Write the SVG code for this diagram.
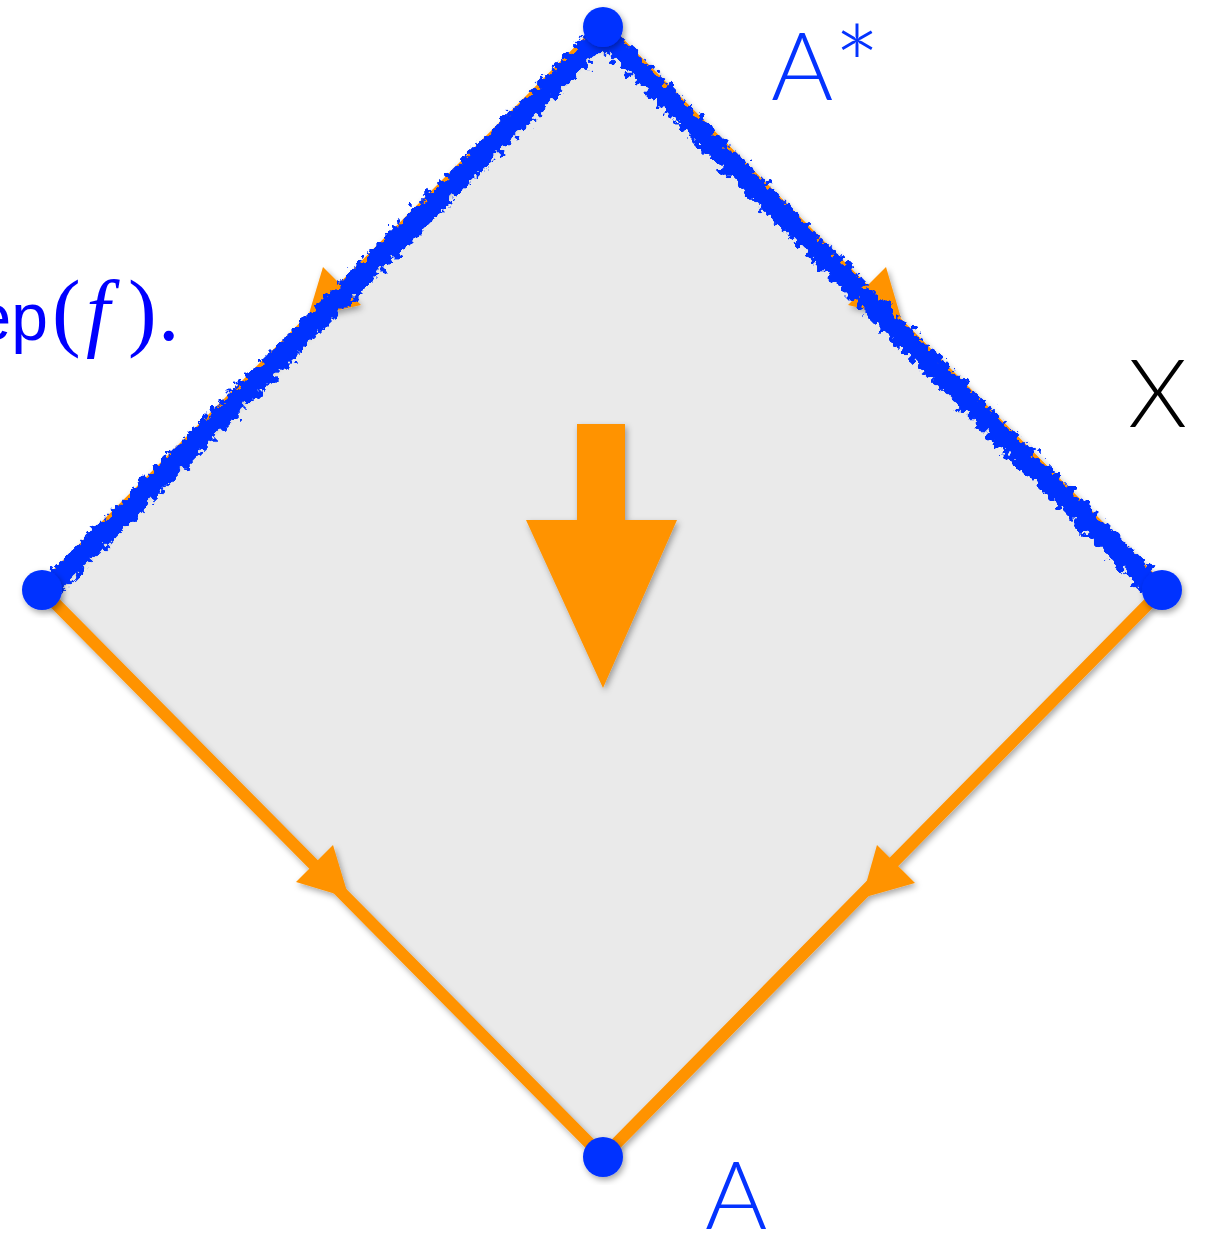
<svg xmlns="http://www.w3.org/2000/svg" width="1206" height="1235" viewBox="0 0 1206 1235">
  <defs>
    <filter id="shadow" x="-20%" y="-20%" width="140%" height="140%">
      <feDropShadow dx="2" dy="3" stdDeviation="3" flood-color="#000" flood-opacity="0.35"/>
    </filter>
    <filter id="rough" x="-10%" y="-10%" width="120%" height="120%">
      <feTurbulence type="fractalNoise" baseFrequency="0.13" numOctaves="3" seed="4" result="n"/>
      <feDisplacementMap in="SourceGraphic" in2="n" scale="18" xChannelSelector="R" yChannelSelector="G"/>
    </filter>
  </defs>
  <style>
    .edge { stroke: #ff9300; stroke-width: 12; fill: none; stroke-linecap: round; }
    .head { fill: #ff9300; }
    .dot { fill: #0433ff; }
    .scribble { stroke: #0433ff; stroke-width: 22; fill: none; stroke-linecap: round; }
    .lbl { font-family: Lato, "Liberation Sans", sans-serif; font-weight: 300; font-size: 95px; }
  </style>
  <rect width="1206" height="1235" fill="#ffffff"/>

  <g id="region">
    <polygon points="603,27 42,590 603,1157 1162,590" fill="#eaeaea"/>
  </g>

  <g id="connectors" filter="url(#shadow)">
    <line class="edge" x1="603" y1="27" x2="42" y2="590"/>
    <line class="edge" x1="603" y1="27" x2="1162" y2="590"/>
    <line class="edge" x1="42" y1="590" x2="603" y2="1157"/>
    <line class="edge" x1="1162" y1="590" x2="603" y2="1157"/>
    <polygon class="head" points="323,267 361,305 308,317"/>
    <polygon class="head" points="886,267 848,305 901,318"/>
    <polygon class="head" points="333,845 296,882 349,898"/>
    <polygon class="head" points="877,845 915,883 862,898"/>
  </g>

  <g id="scribble" filter="url(#rough)">
    <path class="scribble" d="M 600 37 L 49 589"/>
    <path class="scribble" d="M 606 37 L 1155 589"/>
  </g>

  <g id="big-arrow" filter="url(#shadow)">
    <polygon fill="#ff9300" points="577,424 625,424 625,520 677,520 603,688 526,520 577,520"/>
  </g>

  <g id="node-top" filter="url(#shadow)">
    <circle class="dot" cx="603" cy="27" r="20"/>
  </g>
  <g id="node-left" filter="url(#shadow)">
    <circle class="dot" cx="42" cy="590" r="20"/>
  </g>
  <g id="node-right" filter="url(#shadow)">
    <circle class="dot" cx="1162" cy="590" r="20"/>
  </g>
  <g id="node-bottom" filter="url(#shadow)">
    <circle class="dot" cx="603" cy="1157" r="20"/>
  </g>

  <g id="label-astar">
    <text class="lbl" x="771" y="100" fill="#0433ff">A<tspan font-size="112" dy="8">*</tspan></text>
  </g>
  <g id="label-x">
    <text class="lbl" x="1128" y="427" fill="#000000">X</text>
  </g>
  <g id="label-a">
    <text class="lbl" x="705" y="1229" fill="#0433ff">A</text>
  </g>
  <g id="label-rep" fill="#0000ff">
    <text y="340"><tspan x="48" text-anchor="end" font-size="66" font-family="'Liberation Sans', sans-serif">ep</tspan><tspan x="52" font-size="86" font-family="'Liberation Serif', serif">(</tspan><tspan x="86" font-size="86" font-family="'Liberation Serif', serif" font-style="italic">f</tspan><tspan x="128" font-size="86" font-family="'Liberation Serif', serif">)</tspan><tspan x="158" font-size="86" font-family="'Liberation Serif', serif">.</tspan></text>
  </g>
</svg>
